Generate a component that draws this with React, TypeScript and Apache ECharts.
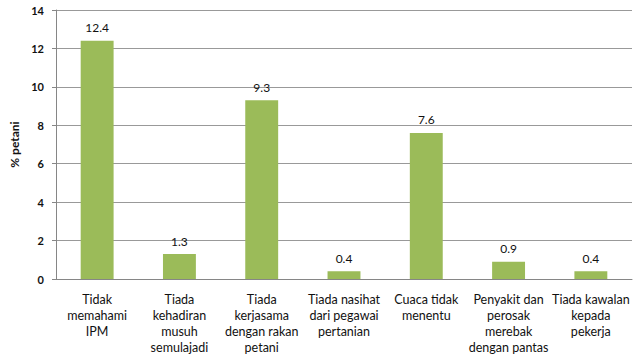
import React, { useEffect, useRef } from "react";
import * as echarts from "echarts";

const categories = [
  "Tidak\nmemahami\nIPM",
  "Tiada\nkehadiran\nmusuh\nsemulajadi",
  "Tiada\nkerjasama\ndengan rakan\npetani",
  "Tiada nasihat\ndari pegawai\npertanian",
  "Cuaca tidak\nmenentu",
  "Penyakit dan\nperosak\nmerebak\ndengan pantas",
  "Tiada kawalan\nkepada\npekerja",
];
const values = [12.4, 1.3, 9.3, 0.4, 7.6, 0.9, 0.4];
const yTicks = { min: 0, max: 14, interval: 2 };

const FONT = "Lato, 'Open Sans', sans-serif";

export default function App() {
  const ref = useRef<HTMLDivElement>(null);
  useEffect(() => {
    if (!ref.current) return;
    const chart = echarts.init(ref.current, null, { renderer: "svg" });
    chart.setOption({
      animation: false,
      backgroundColor: "#ffffff",
      grid: { left: 56, right: 8, top: 10, bottom: 83, containLabel: false },
      xAxis: {
        type: "category",
        data: categories,
        axisLine: { lineStyle: { color: "#868686", width: 1 } },
        axisTick: { show: false },
        axisLabel: {
          interval: 0,
          color: "#111111",
          fontFamily: FONT,
          fontSize: 12.5,
          lineHeight: 16,
          margin: 12,
        },
      },
      yAxis: {
        type: "value",
        min: yTicks.min,
        max: yTicks.max,
        interval: yTicks.interval,
        name: "% petani",
        nameLocation: "middle",
        nameGap: 36,
        nameRotate: 90,
        nameTextStyle: { color: "#111", fontFamily: FONT, fontSize: 12, fontWeight: "bold" },
        axisLine: { show: true, lineStyle: { color: "#868686" } },
        axisTick: { show: true, length: 4, inside: false, lineStyle: { color: "#868686" } },
        splitLine: { lineStyle: { color: "#999999", width: 1 } },
        axisLabel: {
          color: "#111",
          fontFamily: FONT,
          fontSize: 11,
          fontWeight: "bold",
          margin: 12,
        },
      },
      series: [
        {
          type: "bar",
          data: values,
          barWidth: "40%",
          itemStyle: { color: "#9bbb59" },
          label: {
            show: true,
            position: "top",
            distance: 7,
            color: "#111",
            fontFamily: FONT,
            fontSize: 12,
          },
        },
      ],
    });
    return () => chart.dispose();
  }, []);
  return <div ref={ref} style={{ width: 640, height: 362, position: "absolute", left: 0, top: 0 }} />;
}
